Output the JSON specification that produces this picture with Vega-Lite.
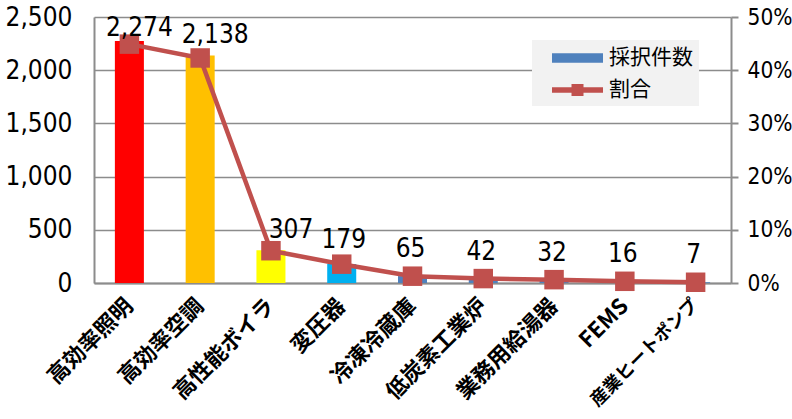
{
  "$schema": "https://vega.github.io/schema/vega-lite/v6.json",
  "width": 637,
  "height": 266,
  "autosize": {"type": "none"},
  "padding": {"left": 94, "top": 17, "right": 61, "bottom": 136},
  "background": "white",
  "config": {"view": {"stroke": null}},
  "data": {"values": [
    {"category": "高効率照明", "count": 2274, "ratio": 0.449},
    {"category": "高効率空調", "count": 2138, "ratio": 0.423},
    {"category": "高性能ボイラ", "count": 307, "ratio": 0.0607},
    {"category": "変圧器", "count": 179, "ratio": 0.0354},
    {"category": "冷凍冷蔵庫", "count": 65, "ratio": 0.0128},
    {"category": "低炭素工業炉", "count": 42, "ratio": 0.0083},
    {"category": "業務用給湯器", "count": 32, "ratio": 0.0063},
    {"category": "FEMS", "count": 16, "ratio": 0.0032},
    {"category": "産業ヒートポンプ", "count": 7, "ratio": 0.0014}
  ]},
  "encoding": {
    "x": {
      "field": "category", "type": "nominal", "sort": null,
      "scale": {"paddingInner": 0.59, "paddingOuter": 0.295},
      "axis": {
        "title": null, "labelAngle": -45, "labelAlign": "right", "labelBaseline": "middle",
        "labelFont": "Noto Sans CJK JP", "labelFontWeight": "bold",
        "labelFontSize": {"condition": {"test": "datum.value === '産業ヒートポンプ'", "value": 18}, "value": 22},
        "labelColor": "#000000", "labelPadding": 19, "ticks": false,
        "domainColor": "#8C8C8C", "domainWidth": 2, "labelLimit": 0
      }
    }
  },
  "layer": [
    {
      "layer": [
        {
          "mark": {"type": "bar"},
          "encoding": {
            "y": {
              "field": "count", "type": "quantitative",
              "scale": {"domain": [0, 2500], "nice": false},
              "axis": {
                "title": null, "orient": "left", "values": [0, 500, 1000, 1500, 2000, 2500],
                "format": ",d", "grid": true, "gridColor": "#8C8C8C", "gridWidth": 1.5,
                "domain": true, "domainColor": "#8C8C8C", "domainWidth": 2, "ticks": false,
                "labelPadding": 22, "labelFont": "DejaVu Sans Condensed",
                "labelFontSize": 26, "labelColor": "#000000"
              }
            },
            "fill": {
              "field": "category", "type": "nominal", "legend": null,
              "scale": {
                "domain": ["高効率照明", "高効率空調", "高性能ボイラ", "変圧器", "冷凍冷蔵庫", "低炭素工業炉", "業務用給湯器", "FEMS", "産業ヒートポンプ"],
                "range": ["#FF0000", "#FFC000", "#FFFF00", "#00B0F0", "#4F81BD", "#4F81BD", "#4F81BD", "#4F81BD", "#4F81BD"]
              }
            }
          }
        }
      ]
    },
    {
      "layer": [
        {
          "mark": {"type": "line", "strokeWidth": 4.5},
          "encoding": {
            "y": {
              "field": "ratio", "type": "quantitative",
              "scale": {"domain": [0, 0.5], "nice": false},
              "axis": {
                "title": null, "orient": "right", "values": [0, 0.1, 0.2, 0.3, 0.4, 0.5],
                "format": ".0%", "grid": false, "domain": true, "domainColor": "#8C8C8C", "domainWidth": 2,
                "ticks": true, "tickSize": 7, "tickColor": "#8C8C8C", "tickWidth": 2,
                "labelPadding": 9, "labelFont": "DejaVu Sans Condensed",
                "labelFontSize": 22.5, "labelColor": "#000000"
              }
            },
            "color": {
              "datum": "割合",
              "scale": {"domain": ["採択件数", "割合"], "range": ["#4F81BD", "#C0504D"]},
              "legend": {
                "title": null, "orient": "none", "legendX": 438, "legendY": 23, "direction": "vertical",
                "fillColor": "#F2F2F2", "padding": 6, "rowPadding": 10,
                "symbolSize": 576, "symbolStrokeWidth": 0, "symbolOffset": 27.5, "labelOffset": 19.5,
                "labelFont": "Noto Sans CJK JP", "labelFontSize": 21, "labelColor": "#000000",
                "encode": {
                  "symbols": {
                    "update": {
                      "shape": {"signal": "datum.value === '割合' ? 'M-2.125,-0.235H-0.5V-0.5H0.5V-0.235H2.125V0.235H0.5V0.5H-0.5V0.235H-2.125Z' : 'M-2.125,-0.39H2.125V0.39H-2.125Z'"},
                      "fill": {"signal": "datum.value === '割合' ? '#C0504D' : '#4F81BD'"},
                      "stroke": {"value": "transparent"},
                      "opacity": {"value": 1},
                      "fillOpacity": {"value": 1}
                    }
                  }
                }
              }
            }
          }
        },
        {
          "mark": {"type": "point", "shape": "square", "filled": true, "size": 380, "opacity": 1},
          "encoding": {
            "y": {"field": "ratio", "type": "quantitative"},
            "color": {"datum": "割合"}
          }
        }
      ]
    },
    {
      "encoding": {
        "y": {"field": "count", "type": "quantitative", "scale": {"domain": [0, 2500], "nice": false}, "axis": null},
        "text": {"field": "count", "type": "quantitative", "format": ","}
      },
      "layer": [
        {
          "transform": [{"filter": {"field": "category", "equal": "高効率照明"}}],
          "mark": {"type": "text", "baseline": "alphabetic", "dx": 10, "dy": -5, "font": "DejaVu Sans Condensed", "fontSize": 26, "color": "#000000"}
        },
        {
          "transform": [{"filter": {"field": "category", "equal": "高効率空調"}}],
          "mark": {"type": "text", "baseline": "alphabetic", "dx": 15, "dy": -13, "font": "DejaVu Sans Condensed", "fontSize": 26, "color": "#000000"}
        },
        {
          "transform": [{"filter": {"field": "category", "equal": "高性能ボイラ"}}],
          "mark": {"type": "text", "baseline": "alphabetic", "dx": 20, "dy": -12, "font": "DejaVu Sans Condensed", "fontSize": 26, "color": "#000000"}
        },
        {
          "transform": [{"filter": {"field": "category", "equal": "変圧器"}}],
          "mark": {"type": "text", "baseline": "alphabetic", "dx": 2, "dy": -16, "font": "DejaVu Sans Condensed", "fontSize": 26, "color": "#000000"}
        },
        {
          "transform": [{"filter": "datum.count < 100"}],
          "mark": {"type": "text", "baseline": "alphabetic", "dx": -2, "dy": -19, "font": "DejaVu Sans Condensed", "fontSize": 26, "color": "#000000"}
        }
      ]
    }
  ],
  "resolve": {"scale": {"y": "independent"}}
}
